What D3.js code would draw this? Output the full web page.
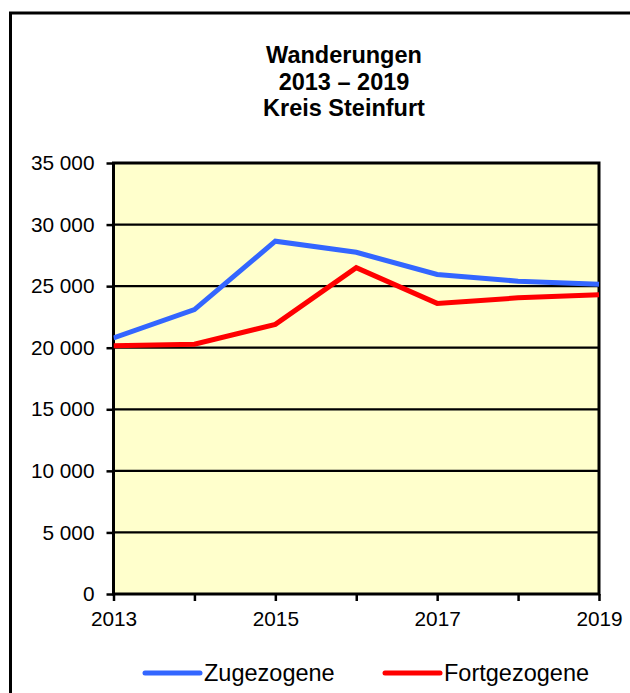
<!DOCTYPE html>
<html lang="de">
<head>
<meta charset="utf-8">
<script src="https://d3js.org/d3.v7.min.js"></script>
<style>
  body { margin: 0; background: #fff; }
  svg { display: block; font-family: Arial, "Liberation Sans", sans-serif; }
</style>
</head>
<body>
<script>
// Daten
var years = [2013, 2014, 2015, 2016, 2017, 2018, 2019];
var zugezogene = [20800, 23100, 28650, 27750, 25950, 25400, 25150];
var fortgezogene = [20150, 20280, 21900, 26500, 23600, 24050, 24300];
var yTicks = [0, 5000, 10000, 15000, 20000, 25000, 30000, 35000];
var xLabels = [2013, 2015, 2017, 2019];
var titleLines = ["Wanderungen", "2013 \u2013 2019", "Kreis Steinfurt"];

var width = 630, height = 693;
var pLeft = 113.5, pRight = 599, pTop = 163, pBottom = 594;

var svg = d3.select("body").append("svg")
    .attr("width", width)
    .attr("height", height);

// Rahmen
svg.append("path")
    .attr("d", "M10.5," + height + " V13 H" + width)
    .attr("fill", "none")
    .attr("stroke", "#000")
    .attr("stroke-width", 3);

var x = d3.scaleLinear().domain([2013, 2019]).range([pLeft, pRight]);
var y = d3.scaleLinear().domain([0, 35000]).range([pBottom, pTop]);

// Plotfläche
svg.append("rect")
    .attr("x", pLeft).attr("y", pTop)
    .attr("width", pRight - pLeft).attr("height", pBottom - pTop)
    .attr("fill", "#FFFFCC");

// Gitterlinien
svg.selectAll(".grid")
    .data(yTicks.slice(1, -1))
    .enter().append("line")
    .attr("x1", pLeft).attr("x2", pRight)
    .attr("y1", function(d) { return y(d); })
    .attr("y2", function(d) { return y(d); })
    .attr("stroke", "#000")
    .attr("stroke-width", 2.3);

var fmt = function(d) {
    return d3.format(",")(d).replace(/,/g, " ");
};

// Y-Achse
var yAxis = svg.append("g")
    .attr("transform", "translate(" + pLeft + ",0)")
    .call(d3.axisLeft(y).tickValues(yTicks).tickFormat(fmt).tickSize(7).tickPadding(12));
yAxis.select(".domain").remove();
yAxis.selectAll("line").attr("stroke-width", 2.5);
yAxis.selectAll("text")
    .attr("font-size", "20.8px")
    .attr("font-family", "Arial, 'Liberation Sans', sans-serif")
    .attr("fill", "#000");

// X-Achse
var xAxis = svg.append("g")
    .attr("transform", "translate(0," + pBottom + ")")
    .call(d3.axisBottom(x).tickValues(years).tickFormat(function(d) {
        return xLabels.indexOf(d) >= 0 ? d : "";
    }).tickSize(7).tickPadding(10));
xAxis.select(".domain").remove();
xAxis.selectAll("line").attr("stroke-width", 2.5);
xAxis.selectAll("text")
    .attr("font-size", "20.8px")
    .attr("font-family", "Arial, 'Liberation Sans', sans-serif")
    .attr("fill", "#000");

// Plotrahmen
svg.append("rect")
    .attr("x", pLeft).attr("y", pTop)
    .attr("width", pRight - pLeft).attr("height", pBottom - pTop)
    .attr("fill", "none")
    .attr("stroke", "#000")
    .attr("stroke-width", 3);

// Linien
var line = d3.line()
    .x(function(d, i) { return x(years[i]); })
    .y(function(d) { return y(d); });

svg.append("clipPath").attr("id", "clip")
    .append("rect")
    .attr("x", pLeft).attr("y", pTop)
    .attr("width", pRight - pLeft + 1).attr("height", pBottom - pTop);

svg.append("path")
    .datum(zugezogene)
    .attr("d", line)
    .attr("clip-path", "url(#clip)")
    .attr("fill", "none")
    .attr("stroke", "#3366FF")
    .attr("stroke-width", 5);

svg.append("path")
    .datum(fortgezogene)
    .attr("d", line)
    .attr("clip-path", "url(#clip)")
    .attr("fill", "none")
    .attr("stroke", "#FF0000")
    .attr("stroke-width", 5);

// Titel
svg.append("text")
    .attr("x", 344)
    .attr("font-size", "23.5px")
    .attr("font-weight", "bold")
    .attr("text-anchor", "middle")
    .selectAll("tspan")
    .data(titleLines)
    .enter().append("tspan")
    .attr("x", 344)
    .attr("y", function(d, i) { return 63 + i * 26.5; })
    .text(function(d) { return d; });

// Legende
var legend = [
    { name: "Zugezogene", color: "#3366FF", x: 145 },
    { name: "Fortgezogene", color: "#FF0000", x: 385 }
];
var lg = svg.selectAll(".legend")
    .data(legend)
    .enter().append("g");
lg.append("line")
    .attr("x1", function(d) { return d.x; })
    .attr("x2", function(d) { return d.x + 55; })
    .attr("y1", 673).attr("y2", 673)
    .attr("stroke", function(d) { return d.color; })
    .attr("stroke-width", 5)
    .attr("stroke-linecap", "round");
lg.append("text")
    .attr("x", function(d) { return d.x + 59; })
    .attr("y", 681)
    .attr("font-size", "23.5px")
    .text(function(d) { return d.name; });
</script>
</body>
</html>
